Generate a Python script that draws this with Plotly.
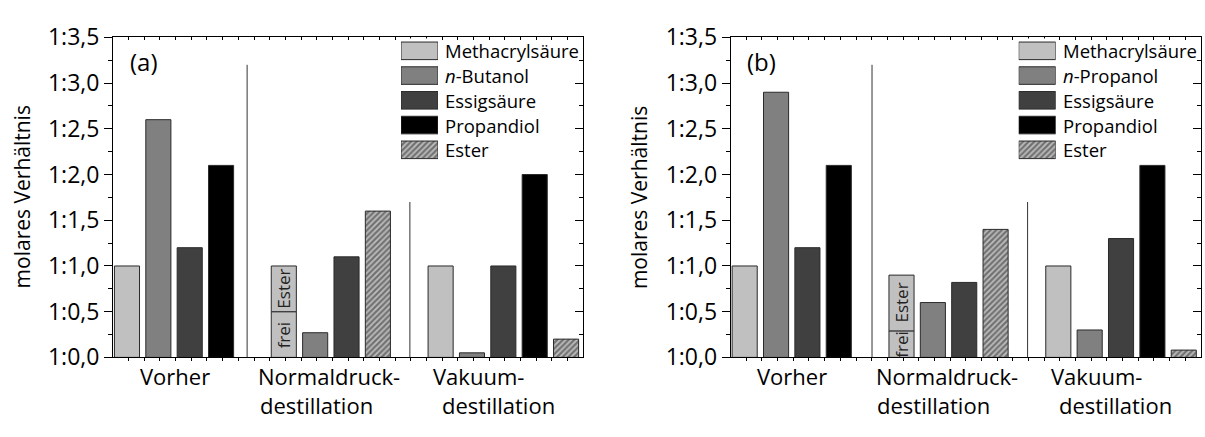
import plotly.graph_objects as go

W, H = 1205, 437
FONT = "Open Sans"

# ---------------- data ----------------
tick_values = [0.0, 0.5, 1.0, 1.5, 2.0, 2.5, 3.0, 3.5]
tick_labels = ["1:0,0", "1:0,5", "1:1,0", "1:1,5", "1:2,0", "1:2,5", "1:3,0", "1:3,5"]

group_lines = [["Vorher"], ["Normaldruck-", "destillation"], ["Vakuum-", "destillation"]]

names_a = ["Methacrylsäure", "<i>n</i>-Butanol", "Essigsäure", "Propandiol", "Ester"]
names_b = ["Methacrylsäure", "<i>n</i>-Propanol", "Essigsäure", "Propandiol", "Ester"]

# values per group (Vorher, Normaldruck, Vakuum); None = not present
a_methacryl = [1.0, 1.0, 1.0]
a_methacryl_frei = [None, 0.5, None]
a_alkohol = [2.6, 0.27, 0.05]
a_essig = [1.2, 1.1, 1.0]
a_propandiol = [2.1, None, 2.0]
a_ester = [None, 1.6, 0.2]

b_methacryl = [1.0, 0.9, 1.0]
b_methacryl_frei = [None, 0.29, None]
b_alkohol = [2.9, 0.6, 0.3]
b_essig = [1.2, 0.82, 1.3]
b_propandiol = [2.1, None, 2.1]
b_ester = [None, 1.4, 0.08]

split_labels = ["frei", "Ester"]

# ---------------- style / layout ----------------
colors = ["#c0c0c0", "#808080", "#404040", "#000000", "#c0c0c0"]
outline = dict(color="#2a2a2a", width=1)
hatch = dict(shape="/", fgcolor="#262626", bgcolor="#bdbdbd", size=4, solidity=0.55)

group_start = [0, 5, 10]
bar_width = 0.8
x_range = [0.054, 15.04]
y_range = [0, 3.5]

px_y0, px_y1 = 22.0, 367.3  # top, bottom of plot area (pixels)
panels = [
    dict(names=names_a, vals=[a_methacryl, a_alkohol, a_essig, a_propandiol, a_ester],
         frei=a_methacryl_frei, px_left=113.0, px_right=583.0, tag="(a)",
         dividers=[(4.33, 3.2), (9.52, 1.7)], ax=("x", "y"), ov=("x2", "y2"), lg=("x5", "y5")),
    dict(names=names_b, vals=[b_methacryl, b_alkohol, b_essig, b_propandiol, b_ester],
         frei=b_methacryl_frei, px_left=730.7, px_right=1200.7, tag="(b)",
         dividers=[(4.56, 3.2), (9.52, 1.7)], ax=("x3", "y3"), ov=("x4", "y4"), lg=("x6", "y6")),
]
label_x = [[2.02], [6.94, 6.53], [11.72, 12.33]]
label_y_px = [387, 419]


def paper_x(px):
    return px / W


def paper_y(py):
    return 1 - py / H


def marker_for(i):
    m = dict(color=colors[i], line=outline)
    if i == 4:
        m["pattern"] = hatch
    return m


fig = go.Figure()
layout = dict(
    width=W, height=H, margin=dict(l=0, r=0, t=0, b=0),
    paper_bgcolor="white", plot_bgcolor="white", showlegend=False,
    barmode="overlay", font=dict(family=FONT, color="black"),
)
annotations = []
shapes = []

for p in panels:
    xa, ya = p["ax"]
    xo, yo = p["ov"]
    xl, yl = p["lg"]
    n_series = len(p["vals"])

    # positions: present bars placed sequentially in each group
    xs = [[] for _ in range(n_series)]
    ys = [[] for _ in range(n_series)]
    split_x, split_frei, split_rest = [], [], []
    for g in range(len(group_lines)):
        k = 0
        for s in range(n_series):
            v = p["vals"][s][g]
            if v is None:
                continue
            pos = group_start[g] + k + 0.5
            k += 1
            if s == 0 and p["frei"][g] is not None:
                split_x.append(pos)
                split_frei.append(p["frei"][g])
                split_rest.append(v - p["frei"][g])
                ys[s].append(p["frei"][g])
            else:
                ys[s].append(v)
            xs[s].append(pos)

    for s in range(n_series):
        fig.add_trace(go.Bar(x=xs[s], y=ys[s], width=bar_width, marker=marker_for(s),
                             xaxis=xa, yaxis=ya, name=p["names"][s], hoverinfo="skip"))
    fig.add_trace(go.Bar(x=split_x, y=split_rest, base=split_frei, width=bar_width,
                         marker=marker_for(0), xaxis=xa, yaxis=ya, hoverinfo="skip"))
    for sx, fr, rest in zip(split_x, split_frei, split_rest):
        annotations.append(dict(x=sx, y=fr / 2, xref=xa, yref=ya, text=split_labels[0],
                                textangle=-90, showarrow=False, font=dict(size=17, color="#222")))
        annotations.append(dict(x=sx, y=fr + rest / 2, xref=xa, yref=ya, text=split_labels[1],
                                textangle=-90, showarrow=False, font=dict(size=17, color="#222")))

    # dummy traces so that the mirror axes are drawn
    fig.add_trace(go.Scatter(x=[None], y=[None], xaxis=xo, yaxis=ya, showlegend=False, hoverinfo="skip"))
    fig.add_trace(go.Scatter(x=[None], y=[None], xaxis=xa, yaxis=yo, showlegend=False, hoverinfo="skip"))

    dom_x = [paper_x(p["px_left"]), paper_x(p["px_right"])]
    dom_y = [paper_y(px_y1), paper_y(px_y0)]
    common_x = dict(range=x_range, showgrid=False, zeroline=False, showline=True, linecolor="black",
                    linewidth=1, tickmode="linear", tick0=0.05, dtick=0.5, ticklen=3,
                    tickcolor="black", showticklabels=False, fixedrange=True)
    common_y = dict(range=y_range, showgrid=False, zeroline=False, showline=True, linecolor="black",
                    linewidth=1, tickmode="array", tickvals=tick_values, ticktext=tick_labels,
                    ticklen=8, tickcolor="black", fixedrange=True)
    layout["xaxis" + xa[1:]] = dict(common_x, domain=dom_x, anchor=ya, ticks="outside")
    layout["xaxis" + xo[1:]] = dict(common_x, overlaying=xa, anchor=ya, side="top", ticks="inside")
    layout["yaxis" + ya[1:]] = dict(common_y, domain=dom_y, anchor=xa, ticks="outside",
                                    tickfont=dict(size=23, family=FONT),
                                    minor=dict(dtick=0.25, tick0=0, ticklen=4, tickcolor="black",
                                               ticks="outside"))
    layout["yaxis" + yo[1:]] = dict(common_y, overlaying=ya, anchor=xa, side="right", ticks="inside",
                                    showticklabels=False,
                                    minor=dict(dtick=0.25, tick0=0, ticklen=4, tickcolor="black",
                                               ticks="inside"))

    # dividers between groups
    for dx, dtop in p["dividers"]:
        shapes.append(dict(type="line", xref=xa, yref=ya, x0=dx, x1=dx, y0=0, y1=dtop,
                           line=dict(color="#333333", width=1)))

    # group labels
    for g, lines in enumerate(group_lines):
        for li, txt in enumerate(lines):
            annotations.append(dict(x=label_x[g][li], y=paper_y(label_y_px[li]), xref=xa, yref="paper",
                                    text=txt, showarrow=False, xanchor="center", yanchor="middle",
                                    font=dict(size=22)))

    # y title
    annotations.append(dict(x=paper_x(p["px_left"] - 91), y=paper_y((px_y0 + px_y1) / 2),
                            xref="paper", yref="paper", text="molares Verhältnis", textangle=-90,
                            showarrow=False, xanchor="center", yanchor="middle", font=dict(size=21)))
    # panel tag
    annotations.append(dict(x=paper_x(p["px_left"] + 31), y=paper_y(48), xref="paper", yref="paper",
                            text=p["tag"], showarrow=False, xanchor="center", yanchor="middle",
                            font=dict(size=24)))

    # legend: swatches as bars on a hidden axis, text as annotations
    row_px = 26.7
    first_row = 36.5
    sw_left = p["px_right"] - 182
    sw_w = 37
    top_px = first_row - row_px / 2
    bot_px = first_row + row_px * (n_series - 0.5)
    for s in range(n_series):
        fig.add_trace(go.Bar(x=[1], y=[s], base=0, orientation="h", width=0.71, marker=marker_for(s),
                             xaxis=xl, yaxis=yl, hoverinfo="skip"))
        annotations.append(dict(x=paper_x(sw_left + sw_w + 5), y=paper_y(first_row + s * row_px),
                                xref="paper", yref="paper", text=p["names"][s], showarrow=False,
                                xanchor="left", yanchor="middle", font=dict(size=18.5)))
    layout["xaxis" + xl[1:]] = dict(domain=[paper_x(sw_left), paper_x(sw_left + sw_w)], range=[0, 1],
                                    visible=False, anchor=yl, fixedrange=True)
    layout["yaxis" + yl[1:]] = dict(domain=[paper_y(bot_px), paper_y(top_px)], range=[n_series - 0.5, -0.5],
                                    visible=False, anchor=xl, fixedrange=True)

layout["annotations"] = annotations
layout["shapes"] = shapes
fig.update_layout(**layout)
fig.write_html("out.html")
